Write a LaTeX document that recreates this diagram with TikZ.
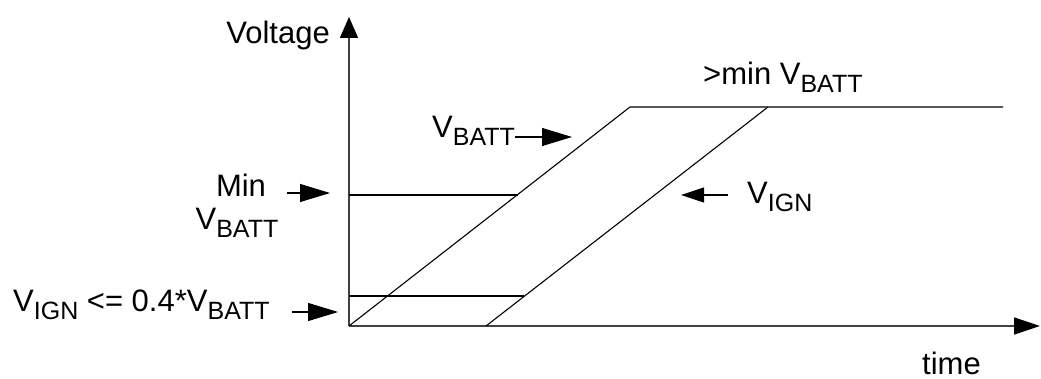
\documentclass[tikz,border=0pt]{standalone}
\usepackage{fontspec}
\setmainfont{Liberation Sans}
\usetikzlibrary{arrows.meta}
\newcommand{\sbs}[1]{\raisebox{-8pt}{\fontsize{25}{30}\selectfont #1}}
\begin{document}
\begin{tikzpicture}[x=1pt,y=-1pt,
  lbl/.style={inner sep=0pt,font=\fontsize{31}{36}\selectfont},
  axisline/.style={draw=black!75,line width=1.6pt},
  curve/.style={draw=black,line width=1.1pt},
  ptr/.style={draw=black,line width=1.1pt,-{Triangle[length=30pt,width=18pt]}},
  ptrsmall/.style={draw=black,line width=1.1pt,-{Triangle[length=23pt,width=15pt]}}]
\useasboundingbox (0,0) rectangle (1041,379);
% coordinates
\coordinate (O) at (349,326);
\coordinate (ytip) at (349,17);
\coordinate (xtip) at (1040,326);
\coordinate (btop) at (630,107);
\coordinate (ibot) at (486,326);
\coordinate (itop) at (768,107);
\coordinate (pend) at (1003,107);
\coordinate (minL) at (349,195);
\coordinate (minR) at (518,195);
\coordinate (lowL) at (349,296);
\coordinate (lowR) at (524,296);
% axes
\draw[axisline,-{Triangle[length=21pt,width=18pt,color=black]}] (O) -- (ytip);
\draw[axisline,-{Triangle[length=26pt,width=17pt,color=black]}] (O) -- (xtip);
% curves
\draw[curve] (O) -- (btop) -- (pend);
\draw[curve] (ibot) -- (itop);
\draw[curve] (minL) -- (minR);
\draw[curve] (lowL) -- (lowR);
% labels
\node[lbl,anchor=base east] (volt) at (330,44) {Voltage};
\node[lbl,anchor=base] (minA) at (241,197) {Min};
\node[lbl,anchor=base] (minB) at (237,230) {V\sbs{BATT}};
\node[lbl,anchor=base west] (low) at (13,312) {V\sbs{IGN} <= 0.4*V\sbs{BATT}};
\node[lbl,anchor=base west] (vb) at (432,138) {V\sbs{BATT}};
\node[lbl,anchor=base west] (vi) at (747,204) {V\sbs{IGN}};
\node[lbl,anchor=base west] (gt) at (703,85) {>min V\sbs{BATT}};
\node[lbl,anchor=base west] (time) at (922,374) {time};
% pointer arrows
\coordinate (minS) at (287,193);
\coordinate (minT) at (330,193);
\coordinate (lowS) at (292,312);
\coordinate (lowT) at (338,312);
\coordinate (vbS) at (515,137);
\coordinate (vbT) at (572,137);
\coordinate (viS) at (728,195);
\coordinate (viT) at (681,195);
\draw[ptr] (minS) -- (minT);
\draw[ptr] (lowS) -- (lowT);
\draw[ptr] (vbS) -- (vbT);
\draw[ptrsmall] (viS) -- (viT);
\end{tikzpicture}
\end{document}
